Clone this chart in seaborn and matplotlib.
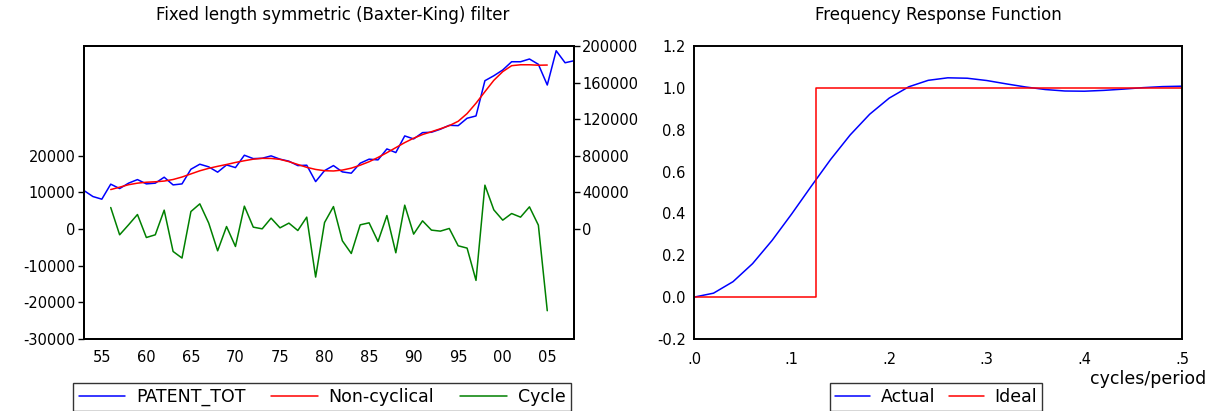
import numpy as np
import pandas as pd
import matplotlib
matplotlib.use("Agg")
import matplotlib.pyplot as plt
from matplotlib.lines import Line2D
from matplotlib.ticker import MultipleLocator, FixedLocator, FuncFormatter
import seaborn as sns

# ---------------- data ----------------
years = list(range(1953, 2009))
patent_tot = [42100, 35600, 32700, 49100, 44300, 50200, 54100, 49400, 50200, 56700,
              48300, 49400, 65400, 70900, 68000, 62200, 70100, 67200, 80700, 77000,
              77400, 80000, 76400, 74200, 69400, 69800, 51900, 63900, 69400, 62500,
              61100, 72000, 76400, 75600, 87600, 83600, 101800, 98500, 105400, 105800,
              109100, 113400, 113000, 121100, 123600, 162100, 167500, 173800, 182800, 182800,
              185800, 180000, 157400, 194800, 181700, 183900]
trend_years = list(range(1956, 2006))
non_cyclical = [43200, 45800, 48500, 50200, 51200, 51700, 52500, 54200, 56900, 60300,
                63700, 66400, 68600, 70600, 72800, 74700, 76400, 77300, 77200, 76200,
                73700, 70600, 67500, 65200, 63800, 63500, 64500, 66600, 69800, 73600,
                78300, 83500, 89000, 94500, 99300, 103300, 106400, 109600, 113000, 117800,
                126200, 137500, 150100, 162500, 172000, 178500, 179500, 179500, 179000, 179200]
cycle = [5900, -1550, 1170, 3990, -2290, -1550, 5180, -6100, -7900, 4800,
         6900, 1640, -5920, 710, -4740, 6270, 540, 80, 3000, 350,
         1640, -380, 3270, -13090, 1800, 6160, -3190, -6650, 1170, 1720,
         -3380, 3710, -6460, 6540, -1360, 2260, -270, -550, 180, -4550,
         -5180, -14000, 12000, 5260, 2450, 4260, 3270, 6080, 1090, -22280]

freq = [0.00, 0.02, 0.04, 0.06, 0.08, 0.10, 0.12, 0.14, 0.16, 0.18, 0.20, 0.22, 0.24,
        0.26, 0.28, 0.30, 0.32, 0.34, 0.36, 0.38, 0.40, 0.42, 0.44, 0.46, 0.48, 0.50]
actual = [0.000, 0.019, 0.074, 0.160, 0.271, 0.397, 0.529, 0.658, 0.775, 0.874, 0.951,
          1.005, 1.036, 1.048, 1.046, 1.035, 1.019, 1.004, 0.992, 0.985, 0.984, 0.988,
          0.994, 1.001, 1.006, 1.008]
ideal_freq = [0.0, 0.125, 0.125, 0.5]
ideal = [0.0, 0.0, 1.0, 1.0]

left_ticks = [-30000, -20000, -10000, 0, 10000, 20000]
right_ticks = [0, 40000, 80000, 120000, 160000, 200000]
freq_ticks = [0.0, 0.1, 0.2, 0.3, 0.4, 0.5]
frf_ticks = [-0.2, 0.0, 0.2, 0.4, 0.6, 0.8, 1.0, 1.2]

# ---------------- style ----------------
sns.set_theme(style="white")
plt.rcParams['font.family'] = ['DejaVu Sans']
FS = 10.5
LFS = 12.5
plt.rcParams.update({
    "xtick.direction": "out", "ytick.direction": "out",
    "xtick.major.size": 4, "ytick.major.size": 4,
    "xtick.minor.size": 3, "xtick.major.width": 1.0, "ytick.major.width": 1.0,
    "xtick.minor.width": 1.0,
    "xtick.color": "black", "ytick.color": "black",
    "xtick.labelcolor": "black", "ytick.labelcolor": "black",
    "text.color": "black", "legend.labelcolor": "black",
    "xtick.labelsize": FS, "ytick.labelsize": FS,
    "axes.edgecolor": "black", "axes.linewidth": 1.4,
})

W, H = 1210, 411
fig = plt.figure(figsize=(W / 100, H / 100), dpi=100)

def rect(x0, x1, y0, y1):
    return [x0 / W, 1 - y1 / H, (x1 - x0) / W, (y1 - y0) / H]

# ---------------- left panel ----------------
ax = fig.add_axes(rect(84, 574, 46, 339))
ax2 = ax.twinx()

sns.lineplot(x=trend_years, y=cycle, ax=ax, color="#008000", lw=1.1, legend=False)
sns.lineplot(x=years, y=patent_tot, ax=ax2, color="#0000FF", lw=1.1, legend=False)
sns.lineplot(x=trend_years, y=non_cyclical, ax=ax2, color="#FF0000", lw=1.1, legend=False)

ax.set_xlim(1953, 2008)
ax.set_ylim(-30000, 50000)
ax2.set_ylim(-120000, 200000)
ax.yaxis.set_major_locator(FixedLocator(left_ticks))
ax2.yaxis.set_major_locator(FixedLocator(right_ticks))
ax.yaxis.set_major_formatter(FuncFormatter(lambda v, p: f"{int(v)}"))
ax2.yaxis.set_major_formatter(FuncFormatter(lambda v, p: f"{int(v)}"))
ax.xaxis.set_major_locator(FixedLocator(list(range(1955, 2006, 5))))
ax.xaxis.set_minor_locator(MultipleLocator(1))
ax.xaxis.set_major_formatter(FuncFormatter(lambda v, p: f"{int(v) % 100:02d}"))
ax.tick_params(axis="x", which="both", length=3, pad=5)
ax.tick_params(axis="y", pad=2)
ax2.tick_params(axis="y", pad=2)
ax.set_xlabel(""); ax.set_ylabel(""); ax2.set_ylabel("")
for a in (ax, ax2):
    for s in a.spines.values():
        s.set_color("black"); s.set_linewidth(1.4)

fig.text(333 / W, 1 - 15 / H, "Fixed length symmetric (Baxter-King) filter",
         ha="center", va="center", fontsize=12, color="black")

handles1 = [Line2D([], [], color="#0000FF", lw=1.1),
            Line2D([], [], color="#FF0000", lw=1.1),
            Line2D([], [], color="#008000", lw=1.1)]
leg1 = fig.legend(handles1, ["PATENT_TOT", "Non-cyclical", "Cycle"], ncol=3,
                  loc="center", bbox_to_anchor=(322 / W, 1 - 397 / H),
                  fontsize=LFS, frameon=True, fancybox=False, edgecolor="black",
                  handlelength=2.7, columnspacing=1.5, handletextpad=0.6,
                  borderpad=0.3, borderaxespad=0, labelcolor="black")
leg1.get_frame().set_linewidth(1.0)

# ---------------- right panel ----------------
bx = fig.add_axes(rect(694, 1182, 46, 339))
sns.lineplot(x=freq, y=actual, ax=bx, color="#0000FF", lw=1.1, legend=False)
sns.lineplot(x=ideal_freq, y=ideal, ax=bx, color="#FF0000", lw=1.1, legend=False,
             estimator=None, sort=False)
bx.set_xlim(0, 0.5)
bx.set_ylim(-0.2, 1.2)
bx.xaxis.set_major_locator(FixedLocator(freq_ticks))
bx.yaxis.set_major_locator(FixedLocator(frf_ticks))
bx.xaxis.set_major_formatter(FuncFormatter(lambda v, p: f"{v:.1f}".lstrip("0") if v >= 0 else f"{v:.1f}"))
bx.yaxis.set_major_formatter(FuncFormatter(lambda v, p: f"{v:.1f}"))
bx.tick_params(axis="x", pad=5)
bx.tick_params(axis="y", pad=2)
bx.set_xlabel(""); bx.set_ylabel("")
for s in bx.spines.values():
    s.set_color("black"); s.set_linewidth(1.4)

fig.text(938 / W, 1 - 15 / H, "Frequency Response Function",
         ha="center", va="center", fontsize=12, color="black")
fig.text(1206 / W, 1 - 379 / H, "cycles/period", ha="right", va="center",
         fontsize=LFS, color="black")

handles2 = [Line2D([], [], color="#0000FF", lw=1.1),
            Line2D([], [], color="#FF0000", lw=1.1)]
leg2 = fig.legend(handles2, ["Actual", "Ideal"], ncol=2,
                  loc="center", bbox_to_anchor=(936 / W, 1 - 397 / H),
                  fontsize=LFS, frameon=True, fancybox=False, edgecolor="black",
                  handlelength=2.0, columnspacing=0.8, handletextpad=0.6,
                  borderpad=0.3, borderaxespad=0, labelcolor="black")
leg2.get_frame().set_linewidth(1.0)

fig.savefig("out.png", dpi=100, facecolor="white")
